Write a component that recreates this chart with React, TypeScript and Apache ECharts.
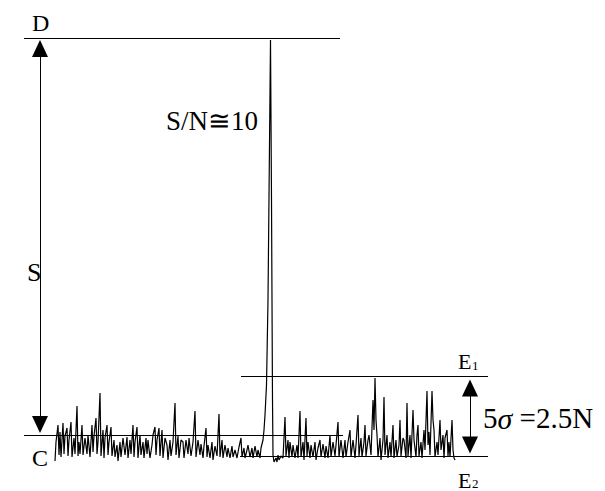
import React, { useEffect, useRef } from "react";
import * as echarts from "echarts";

// Signal trace: x position and signal height above the noise floor (same units as the axes)
const traceX = [
  55, 56, 58, 59, 60, 61, 63, 64, 65, 67, 68, 69, 71, 72, 74, 75, 77, 78, 79, 80,
  82, 83, 85, 87, 88, 90, 92, 93, 94, 96, 97, 98, 100, 101, 103, 104, 105, 107, 108, 109,
  111, 112, 114, 115, 117, 118, 120, 121, 123, 125, 127, 128, 130, 131, 133, 134, 135, 137, 138, 140,
  141, 143, 144, 146, 147, 148, 150, 152, 153, 155, 156, 157, 159, 160, 162, 163, 165, 167, 168, 170,
  171, 173, 175, 176, 178, 179, 181, 183, 184, 186, 188, 189, 191, 193, 195, 196, 198, 200, 201, 203,
  204, 206, 207, 208, 210, 212, 213, 215, 217, 219, 220, 222, 223, 225, 227, 228, 230, 232, 233, 235,
  237, 239, 241, 242, 244, 245, 247, 248, 250, 252, 253, 255, 257, 258, 260, 261, 263, 264, 265, 266.5,
  268, 270.5, 271.5, 272.5, 273, 274, 275, 276, 277, 278, 279, 281, 283, 285, 286, 288, 289, 290, 292, 293,
  295, 297, 298, 300, 301, 303, 304, 306, 307, 308, 310, 311, 313, 315, 316, 318, 320, 321, 323, 325,
  326, 328, 330, 331, 333, 335, 336, 338, 339, 341, 343, 345, 346, 348, 350, 351, 353, 355, 356, 358,
  359, 361, 362, 364, 365, 366, 368, 369, 371, 373, 374, 375, 376, 377, 378, 380, 381, 383, 384, 385,
  387, 388, 390, 391, 393, 394, 396, 397, 399, 400, 401, 403, 404, 406, 407, 408, 410, 411, 413, 414,
  416, 417, 418, 419, 421, 422, 424, 425, 427, 428, 429, 430, 432, 433, 434, 435, 437, 438, 440, 441,
  443, 444, 445, 447, 448, 449, 450, 452, 453, 454, 455,
];
const traceY = [
  -1, 18, 35, 5, 28, 3, 37, 6, 24, 32, 4, 20, 38, 3, 22, 6, 54, 4, 18, 6,
  35, 5, 22, 6, 25, 3, 35, 8, 24, 42, 6, 18, 67, 4, 30, 2, 22, 35, 5, 18,
  33, 4, 20, 3, 15, -1, 18, 3, 22, 5, 23, 2, 20, 6, 35, 3, 18, 33, 2, 25,
  5, 18, 2, 22, 6, 20, 2, 15, 25, 33, 5, 20, 32, 4, 30, 2, 22, 15, 0, 20,
  4, 18, 57, 5, 24, 2, 20, 18, 2, 20, 6, 22, 4, 18, 49, 3, 20, 5, 16, 2,
  14, 32, 3, 15, 2, 18, 0, 14, 4, 46, 3, 20, 2, 15, 3, 12, 2, 14, 3, 10,
  2, 13, 22, 3, 12, 2, 10, 15, 3, 12, 2, 14, 3, 10, 2, 12, 20, 30, 45, 75,
  160, 420, 260, 60, 5, -2, 0, 2, -2, 5, 0, 4, 2, 43, 4, 20, 2, 18, 3, 15,
  2, 15, 2, 49, 3, 18, 0, 42, 4, 18, 2, 15, 3, 18, 0, 12, 20, 3, 16, 2,
  14, 2, 25, 3, 18, 4, 15, 38, 3, 20, 2, 20, 3, 18, 30, 3, 20, 2, 15, 45,
  4, 22, 3, 18, 35, 4, 20, 25, 5, 60, 30, 82, 40, 25, 3, 22, 0, 20, 63, 5,
  25, 2, 18, 3, 35, 2, 20, 3, 15, 40, 4, 22, 20, 2, 57, 4, 25, 2, 50, 20,
  3, 25, 35, 4, 18, 2, 30, 10, 69, 15, 28, 5, 69, 40, 30, 3, 18, 5, 40, 10,
  25, 2, 22, 30, 4, 18, 3, 40, 10, 2, 0,
];

// Reference levels
const levelD = 422;
const levelC = 25;
const levelE1 = 84;
const levelE2 = 4;
const spanD = [24, 340];
const spanC = [24, 343];
const spanE1 = [241, 488];
const spanE2 = [240, 488];

const SERIF = "Liberation Serif";

const txt = (text: string, x: number, y: number, size: number) => ({
  type: "text",
  x,
  y,
  style: { text, fontSize: size, fontFamily: SERIF, fill: "#000", verticalAlign: "middle" },
});

export default function App() {
  const ref = useRef<HTMLDivElement>(null);
  useEffect(() => {
    if (!ref.current) return;
    const chart = echarts.init(ref.current, null, { renderer: "svg" });
    const data = traceX.map((x, i) => [x, traceY[i]]);
    const hline = (lvl: number, span: number[]) => [
      { coord: [span[0], lvl] },
      { coord: [span[1], lvl] },
    ];
    chart.setOption({
      animation: false,
      backgroundColor: "#fff",
      textStyle: { fontFamily: SERIF },
      grid: { left: 0, right: 0, top: 0, bottom: 0 },
      xAxis: { type: "value", min: 0, max: 605, show: false },
      yAxis: { type: "value", min: -31, max: 460, show: false },
      series: [
        {
          type: "line",
          data,
          symbol: "none",
          lineStyle: { color: "#000", width: 1.2 },
          markLine: {
            silent: true,
            symbol: "none",
            label: { show: false },
            lineStyle: { color: "#000", width: 1, type: "solid" },
            data: [
              hline(levelD, spanD),
              hline(levelC, spanC),
              hline(levelE1, spanE1),
              hline(levelE2, spanE2),
            ],
          },
        },
        {
          type: "line",
          data: [],
          markLine: {
            silent: true,
            symbol: ["triangle", "triangle"],
            symbolSize: [16, 17],
            label: { show: false },
            lineStyle: { color: "#000", width: 1, type: "solid" },
            itemStyle: { color: "#000" },
            data: [
              [{ coord: [40, 411.5] }, { coord: [40, 35.5] }],
              [{ coord: [470, 72] }, { coord: [470, 15] }],
            ],
          },
        },
      ],
      graphic: [
        txt("D", 32, 23, 24),
        txt("C", 32, 457.5, 24),
        txt("S", 27, 272, 26),
        txt("S/N≅10", 166, 121, 27),
        txt("E", 458, 361.5, 22),
        txt("1", 472, 365, 13),
        txt("E", 458, 480, 22),
        txt("2", 472, 483.5, 13),
        {
          type: "text",
          x: 483,
          y: 418,
          style: {
            text: "{a|5}{b|σ}{a| =2.5N}",
            fill: "#000",
            verticalAlign: "middle",
            rich: {
              a: { fontSize: 29, fontFamily: SERIF, fill: "#000" },
              b: { fontSize: 30, fontFamily: SERIF, fontStyle: "italic", fill: "#000" },
            },
          },
        },
      ],
    });
    return () => chart.dispose();
  }, []);
  return (
    <div
      ref={ref}
      style={{ position: "fixed", left: 0, top: 0, width: 605, height: 491, background: "#fff" }}
    />
  );
}
